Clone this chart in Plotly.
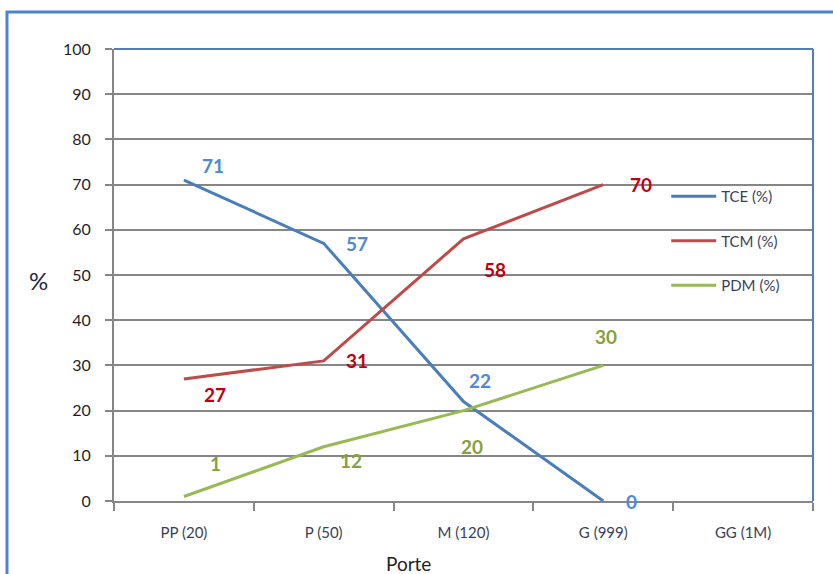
import plotly.graph_objects as go

categories = ["PP (20)", "P (50)", "M (120)", "G (999)", "GG (1M)"]
tce = [71, 57, 22, 0]
tcm = [27, 31, 58, 70]
pdm = [1, 12, 20, 30]
y_ticks = [0, 10, 20, 30, 40, 50, 60, 70, 80, 90, 100]

series = [
    ("TCE (%)", tce, "#4a7ebb", "#5089d0", [(29, 15), (33, 0), (16, 21), (28, 0)]),
    ("TCM (%)", tcm, "#be4b48", "#c00010", [(31, -16), (33, 0), (31, -31), (38, 0)]),
    ("PDM (%)", pdm, "#98b954", "#86a03a", [(32, 33), (27, -14), (8, -36), (3, 29)]),
]

fig = go.Figure()
annotations = []
for i, (name, vals, lc, tc, offs) in enumerate(series):
    fig.add_trace(go.Scatter(
        x=categories[:len(vals)], y=vals, mode="lines", name=name,
        line=dict(color=lc, width=3), legendgroup=name,
    ))
    for (xv, yv, (dx, dy)) in zip(categories, vals, offs):
        annotations.append(dict(
            x=xv, y=yv, xref="x", yref="y", text="<b>%d</b>" % yv, showarrow=False,
            xshift=dx, yshift=dy,
            font=dict(family="Lato", size=19, color=tc),
        ))

annotations.append(dict(x=(38 - 114) / 699, y=(501 - 280) / 452, xref="paper", yref="paper",
                        text="%", showarrow=False, xanchor="center", yanchor="middle",
                        font=dict(family="Lato", size=24, color="#1f2a44")))
annotations.append(dict(x=(408 - 114) / 699, y=(501 - 563) / 452, xref="paper", yref="paper",
                        text="Porte", showarrow=False, xanchor="center", yanchor="middle",
                        font=dict(family="Lato", size=19, color="#1f1f1f")))

shapes = [
    # outer chart border
    dict(type="rect", xref="paper", yref="paper", x0=-0.1531, x1=1.08, y0=-0.25, y1=1.0819,
         line=dict(color="#4f81d0", width=3), layer="below"),
    # plot area top/right border
    dict(type="line", xref="paper", yref="paper", x0=0, x1=1, y0=1, y1=1,
         line=dict(color="#4f7fb8", width=2)),
    dict(type="line", xref="paper", yref="paper", x0=1, x1=1, y0=0, y1=1,
         line=dict(color="#4f7fb8", width=2)),
]

fig.update_layout(
    width=833, height=574,
    margin=dict(l=114, r=20, t=49, b=73),
    paper_bgcolor="white", plot_bgcolor="white",
    showlegend=True,
    legend=dict(x=0.79, y=0.71, xanchor="left", yanchor="top",
                bgcolor="rgba(0,0,0,0)", tracegroupgap=22, itemwidth=45,
                font=dict(family="Lato", size=15, color="#3a3f55")),
    annotations=annotations,
    shapes=shapes,
    xaxis=dict(
        type="category", categoryorder="array", categoryarray=categories,
        range=[-0.5, 4.5], showgrid=False, showline=True, linecolor="#868686", linewidth=2,
        ticks="outside", ticklen=8, tickcolor="#868686", tickwidth=2,
        tickson="boundaries", ticklabelstandoff=17,
        tickfont=dict(family="Lato", size=15, color="#3a3f55"),
        zeroline=False,
    ),
    yaxis=dict(
        range=[0, 100], tickvals=y_ticks, showgrid=True, gridcolor="#868686", gridwidth=2,
        showline=True, linecolor="#868686", linewidth=2,
        ticks="outside", ticklen=7, tickcolor="#868686", tickwidth=2,
        ticklabelstandoff=11,
        tickfont=dict(family="Lato", size=16, color="#1f1f1f"),
        zeroline=False,
    ),
)

fig.write_html("out.html")
